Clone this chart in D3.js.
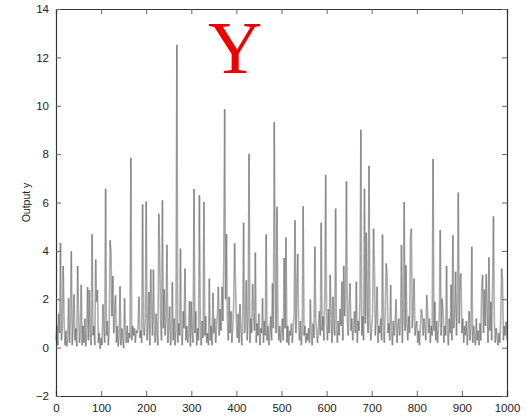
<!DOCTYPE html>
<html>
<head>
<meta charset="utf-8">
<script src="https://cdn.jsdelivr.net/npm/d3@7"></script>
<style>
  html, body { margin: 0; padding: 0; background: #fff; }
  svg { display: block; }
</style>
</head>
<body>
<svg id="chart" width="526" height="417"></svg>
<script>
// Sample spacing of the output series (one value every 2 steps, 0..1000)
const sampleStep = 2;

// Output y, sampled every 2 time steps
const outputY = [
  0.3, 0.9, 0.1, 1.4, 0.6, 4.33, 0.3, 0.8, 3.38, 1.1,
  0.1, 0.7, 0.05, 0.5, 2.04, 0.2, 1.3, 3.98, 0.1, 0.9,
  2.2, 0.3, 0.8, 0.05, 3.37, 1.5, 0.2, 0.6, 2.6, 0.1,
  0.9, 0.2, 1.2, 0.05, 0.7, 2.5, 0.3, 2.38, 0.6, 0.1,
  4.69, 0.5, 0.9, 0.1, 3.64, 1.9, 2.38, 0.2, 0.6, -0.05,
  0.4, 0.1, 1.79, 0.8, 0.2, 6.57, 0.5, 1.1, 0.1, 0.7,
  4.44, 3.96, 1.3, 2.96, 0.6, 1.4, 2.16, 0.2, 0.9, 0.05,
  0.5, 2.54, 0.1, 0.8, 0.4, -0.02, 2.04, 0.7, 0.2, 0.9,
  0.2, 0.6, 0.4, 7.85, 0.3, 0.9, 0.5, 0.8, 0.2, 0.7,
  0.6, 0.9, 2.1, 0.4, 0.7, 0.2, 5.93, 0.8, 0.5, 1.2,
  6.04, 0.3, 1.0, 2.3, 0.1, 3.23, 1.6, 0.5, 3.23, 0.9,
  0.2, 1.4, 0.6, 0.1, 5.53, 3.78, 1.1, 0.3, 6.09, 0.8,
  2.41, 0.5, 1.3, 4.25, 0.2, 0.9, 1.7, 0.1, 0.6, 2.7,
  0.3, 1.2, 0.1, 0.7, 12.52, 0.2, 1.0, 0.5, 4.1, 0.6,
  0.1, 1.5, 0.8, 3.27, 0.3, 0.9, 0.2, 0.6, 1.93, 0.05,
  1.9, 0.5, 0.2, 6.56, 0.6, 1.5, 0.1, 0.8, 0.3, 6.3,
  0.7, 0.1, 1.1, 0.4, 6.02, 0.5, 1.3, 0.2, 0.6, 0.1,
  2.86, 0.3, 0.9, 0.1, 2.27, 0.6, 1.2, 0.2, 0.8, 1.4,
  2.52, 0.5, 1.6, 0.7, 2.52, 1.1, 3.64, 9.86, 2.0, 4.7,
  1.2, 0.3, 2.1, 0.6, 1.5, 0.2, 0.9, 1.8, 4.31, 2.71,
  1.0, 0.4, 1.4, 0.2, 1.8, 0.7, 0.1, 1.2, 5.16, 0.6,
  0.9, 2.79, 0.3, 1.1, 8.02, 0.2, 1.2, 0.6, 2.63, 1.5,
  0.7, 3.93, 0.2, 1.0, 0.5, 1.4, 0.1, 0.8, 0.6, 2.04,
  0.2, 1.1, 0.5, 4.69, 0.3, 0.9, 0.1, 0.6, 1.3, 0.3,
  2.65, 0.8, 9.33, 2.93, 0.6, 5.82, 1.1, 0.3, 0.9, 0.2,
  0.6, 1.2, 0.3, 3.71, 0.8, 4.55, 0.2, 0.9, 0.1, 0.7,
  0.5, 1.0, 0.2, 0.8, 1.4, 5.27, 0.6, 2.4, 3.87, 0.9,
  0.3, 1.1, 0.1, 0.7, 5.85, 0.5, 0.9, 0.2, 0.6, 0.3,
  0.8, 0.2, 1.99, 0.6, 0.1, 1.0, 0.4, 4.17, 1.2, 0.5,
  0.2, 0.9, 1.5, 0.5, 5.16, 0.7, 1.3, 0.3, 2.3, 7.15,
  1.0, 0.3, 1.6, 0.6, 3.0, 1.2, 0.2, 2.1, 0.8, 0.5,
  5.75, 0.7, 0.2, 1.1, 0.5, 1.6, 0.9, 2.72, 0.3, 3.38,
  1.3, 2.2, 6.88, 1.0, 0.5, 1.8, 2.65, 0.7, 1.2, 0.3,
  0.9, 1.5, 0.6, 2.72, 0.2, 1.1, 0.7, 1.9, 9.01, 0.5,
  1.3, 0.3, 6.57, 1.0, 4.76, 1.7, 0.6, 7.52, 1.2, 0.3,
  0.8, 1.4, 4.92, 3.4, 0.5, 1.1, 2.52, 0.2, 0.9, 0.6,
  1.2, 0.3, 4.68, 0.9, 0.2, 1.5, 3.48, 3.1, 0.6, 1.0,
  0.3, 2.59, 0.7, 0.1, 1.1, 0.5, 0.9, 1.99, 0.2, 0.8,
  1.2, 0.5, 0.9, 4.24, 0.2, 1.6, 6.02, 0.7, 3.41, 1.0,
  0.3, 1.3, 0.6, 4.61, 4.92, 0.8, 1.5, 2.86, 0.5, 0.9,
  1.1, 0.2, 0.7, 0.1, 0.9, 1.58, 1.4, 0.5, 1.2, 0.8,
  0.3, 2.17, 1.5, 0.6, 1.2, 0.2, 0.9, 0.5, 7.8, 0.7,
  1.9, 0.3, 1.1, 0.2, 0.8, 1.3, 4.86, 0.5, 2.02, 1.6,
  0.2, 0.9, 0.5, 3.38, 0.7, 0.1, 1.2, 0.6, 2.6, 0.3,
  4.65, 0.8, 1.4, 3.14, 0.5, 1.9, 6.41, 1.0, 2.9, 3.07,
  0.6, 1.2, 0.2, 0.9, 0.5, 1.1, 0.1, 0.7, 1.51, 0.3,
  0.8, 4.17, 0.2, 0.9, 0.5, 0.1, 1.21, 0.3, 0.7, 0.1,
  1.0, 0.3, 2.6, 3.0, 0.6, 2.4, 0.9, 3.03, 1.5, 0.2,
  3.74, 0.7, 1.9, 0.3, 2.6, 5.43, 1.1, 0.2, 0.8, 0.5,
  0.1, 0.6, 0.2, 1.1, 3.27, 2.86, 0.3, 0.9, 0.5, 1.07,
  0.3
];

const xTicks = [0, 100, 200, 300, 400, 500, 600, 700, 800, 900, 1000];
const yTicks = [-2, 0, 2, 4, 6, 8, 10, 12, 14];
const yLabel = "Output y";
const titleMark = "Y";

const svg = d3.select("#chart");
const margin = { left: 56, right: 19, top: 9, bottom: 21 };
const W = 526, H = 417;

const x = d3.scaleLinear().domain([0, 1000]).range([margin.left, W - margin.right]);
const y = d3.scaleLinear().domain([-2, 14]).range([H - margin.bottom, margin.top]);

const series = outputY.map((v, i) => ({ t: i * sampleStep, v }));

// series line: soft grey trace, each segment drawn on its own so crossings darken
const segments = d3.pairs(series);
svg.append("g")
  .selectAll("line")
  .data(segments)
  .join("line")
  .attr("x1", d => x(d[0].t))
  .attr("y1", d => y(d[0].v))
  .attr("x2", d => x(d[1].t))
  .attr("y2", d => y(d[1].v))
  .attr("stroke", "#6a6a6a")
  .attr("stroke-opacity", 0.55)
  .attr("stroke-width", 1.6);

const fontFamily = "'Liberation Sans', Arial, Helvetica, sans-serif";
const fmt = d => d < 0 ? "\u2212" + Math.abs(d) : String(d);

// axes with inward ticks on all four sides
const axBottom = svg.append("g")
  .attr("transform", `translate(0,${y(-2)})`)
  .call(d3.axisBottom(x).tickValues(xTicks).tickSize(-5).tickPadding(8).tickFormat(fmt));
const axTop = svg.append("g")
  .attr("transform", `translate(0,${y(14)})`)
  .call(d3.axisTop(x).tickValues(xTicks).tickSize(-5).tickFormat(""));
const axLeft = svg.append("g")
  .attr("transform", `translate(${x(0)},0)`)
  .call(d3.axisLeft(y).tickValues(yTicks).tickSize(-5).tickPadding(7).tickFormat(fmt));
const axRight = svg.append("g")
  .attr("transform", `translate(${x(1000)},0)`)
  .call(d3.axisRight(y).tickValues(yTicks).tickSize(-5).tickFormat(""));

[axBottom, axTop, axLeft, axRight].forEach(g => {
  g.select(".domain").attr("stroke", "#333").attr("stroke-width", 1.2);
  g.selectAll(".tick line").attr("stroke", "#666");
  g.selectAll(".tick text")
    .attr("font-family", fontFamily)
    .attr("font-size", 11.5)
    .attr("fill", "#222");
});

// y axis label
svg.append("text")
  .attr("transform", `translate(30,${y(6)}) rotate(-90)`)
  .attr("text-anchor", "middle")
  .attr("font-family", fontFamily)
  .attr("font-size", 10.5)
  .attr("fill", "#222")
  .text(yLabel);

// red title letter
svg.append("text")
  .attr("x", 235)
  .attr("y", 73)
  .attr("text-anchor", "middle")
  .attr("font-family", "'Liberation Serif', 'Times New Roman', serif")
  .attr("font-size", 75)
  .attr("fill", "#ee0000")
  .text(titleMark);
</script>
</body>
</html>
